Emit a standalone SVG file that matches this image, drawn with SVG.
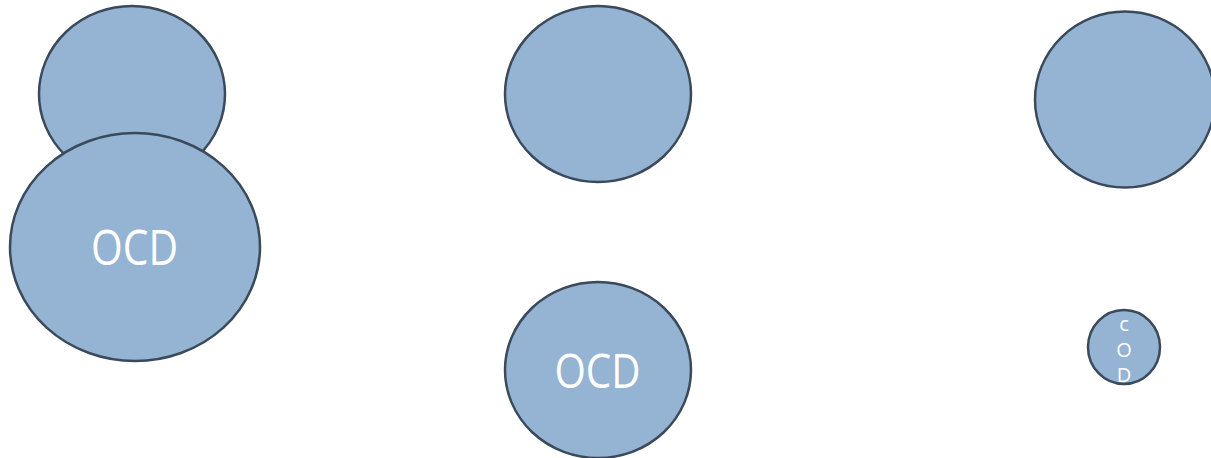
<svg xmlns="http://www.w3.org/2000/svg" width="1211" height="458" viewBox="0 0 1211 458">
<style>
.n{fill:#95b3d2;stroke:#3a4a5b;stroke-width:2.5}
.t{fill:#ffffff;font-family:"Open Sans",sans-serif;text-anchor:middle}
</style>
<rect width="1211" height="458" fill="#ffffff"/>
<g id="connectors"></g>
<g id="n1"><ellipse class="n" cx="132" cy="94" rx="93" ry="88"/></g>
<g id="n2"><ellipse class="n" cx="135" cy="247" rx="125" ry="114"/><text class="t" x="134.5" y="265" font-size="50" textLength="87" lengthAdjust="spacingAndGlyphs">OCD</text></g>
<g id="n3"><ellipse class="n" cx="598" cy="94" rx="93" ry="88"/></g>
<g id="n4"><ellipse class="n" cx="598" cy="370" rx="93" ry="88"/><text class="t" x="597.5" y="388" font-size="48" textLength="86" lengthAdjust="spacingAndGlyphs">OCD</text></g>
<g id="n5"><ellipse class="n" cx="1125" cy="99.5" rx="90" ry="88"/></g>
<g id="n6"><ellipse class="n" cx="1124" cy="347" rx="36" ry="37"/>
<text class="t" x="1124" y="331" font-size="20">c</text>
<text class="t" x="1124" y="357" font-size="20">O</text>
<text class="t" x="1124" y="382" font-size="20">D</text></g>
</svg>
